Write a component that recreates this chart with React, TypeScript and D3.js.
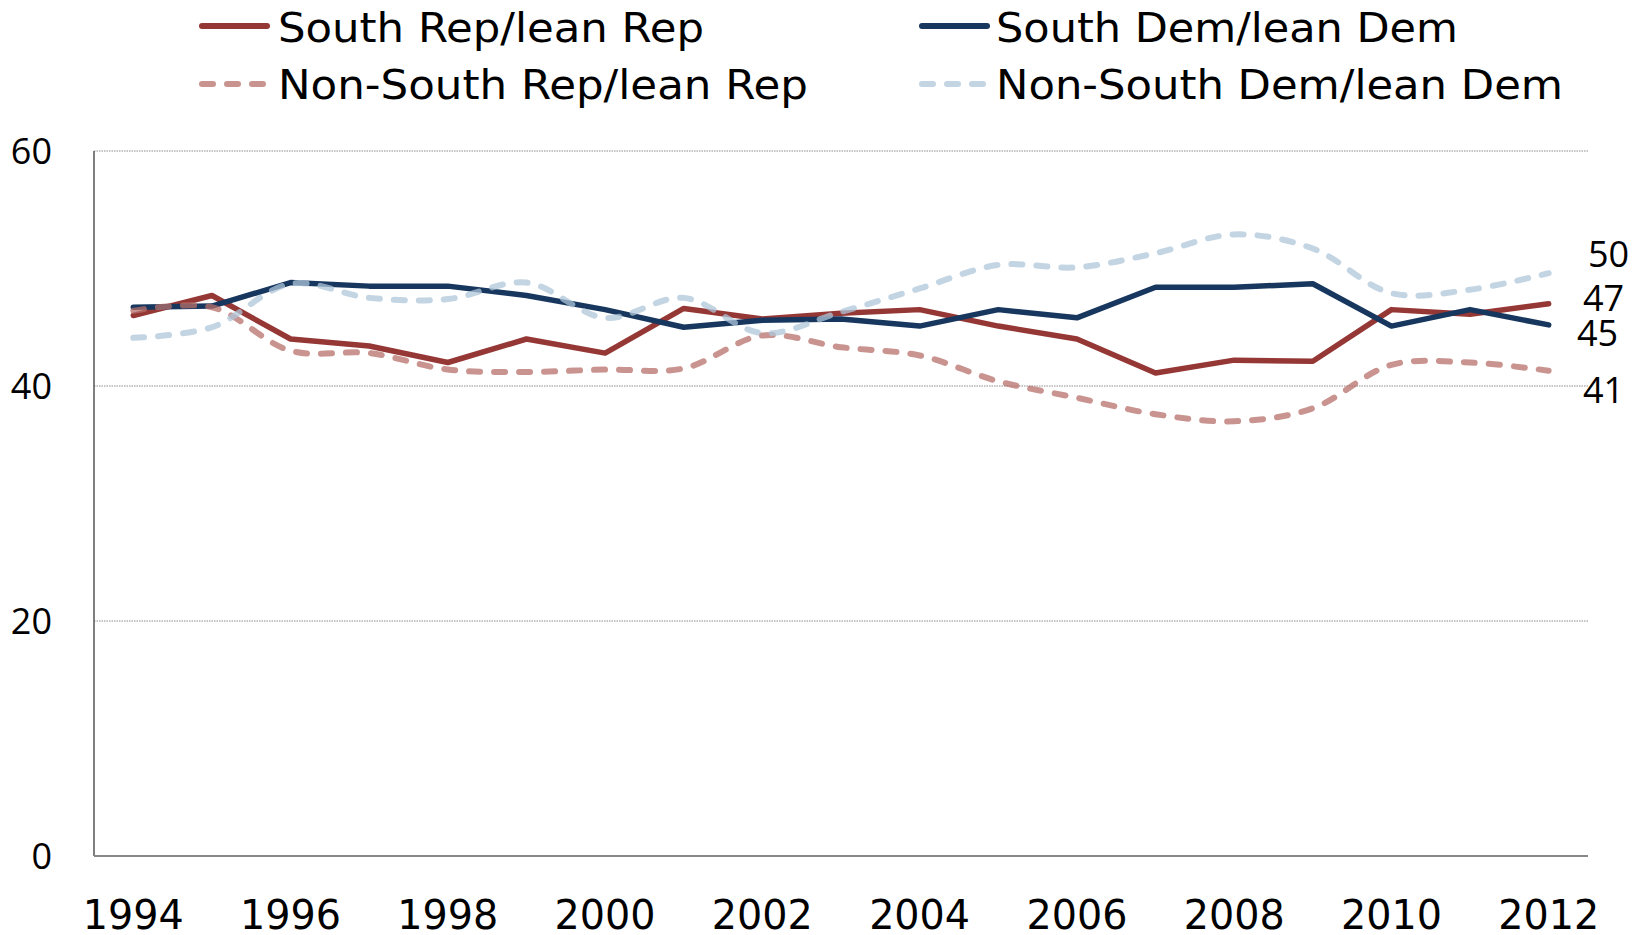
import React from "react";
import * as d3 from "d3";

const years = [1994, 1995, 1996, 1997, 1998, 1999, 2000, 2001, 2002, 2003, 2004, 2005, 2006, 2007, 2008, 2009, 2010, 2011, 2012];
const southRep = [46.0, 47.7, 44.0, 43.4, 42.0, 44.0, 42.8, 46.6, 45.7, 46.2, 46.5, 45.1, 44.0, 41.1, 42.2, 42.1, 46.5, 46.1, 47.0];
const southDem = [46.7, 46.8, 48.8, 48.5, 48.5, 47.7, 46.5, 45.0, 45.6, 45.7, 45.1, 46.5, 45.8, 48.4, 48.4, 48.7, 45.1, 46.5, 45.2];
const nonSouthRep = [46.4, 46.7, 43.0, 42.8, 41.4, 41.2, 41.4, 41.5, 44.3, 43.3, 42.6, 40.4, 39.0, 37.6, 37.0, 38.1, 41.8, 42.0, 41.3];
const nonSouthDem = [44.1, 45.0, 48.7, 47.5, 47.4, 48.8, 45.8, 47.5, 44.5, 46.3, 48.3, 50.3, 50.1, 51.3, 52.9, 51.7, 47.9, 48.2, 49.6];
const yTicks = [0, 20, 40, 60];
const xTickYears = [1994, 1996, 1998, 2000, 2002, 2004, 2006, 2008, 2010, 2012];

const seriesNames = ["South Rep/lean Rep", "South Dem/lean Dem", "Non-South Rep/lean Rep", "Non-South Dem/lean Dem"];

export default function App() {
  const W = 1641, H = 935;
  const left = 94, right = 1588, top = 151, bottom = 856;
  const x = d3.scaleBand<number>().domain(years).range([left, right]);
  const cx = (yr: number) => (x(yr) as number) + x.bandwidth() / 2;
  const y = d3.scaleLinear().domain([0, 60]).range([bottom, top]);

  const solid = d3.line<number>().x((_, i) => cx(years[i])).y((v) => y(v));
  const smooth = d3.line<number>().x((_, i) => cx(years[i])).y((v) => y(v)).curve(d3.curveCatmullRom.alpha(0.5));

  const series = [
    { name: seriesNames[0], data: southRep, color: "#953735", opacity: 1, dashed: false, gen: solid },
    { name: seriesNames[1], data: southDem, color: "#17375E", opacity: 1, dashed: false, gen: solid },
    { name: seriesNames[2], data: nonSouthRep, color: "#B7706A", opacity: 0.75, dashed: true, gen: smooth },
    { name: seriesNames[3], data: nonSouthDem, color: "#AFC6DA", opacity: 0.75, dashed: true, gen: smooth },
  ];

  const legendPos = [
    { lx: 199, ly: 26, tx: 278, ty: 42, tl: 426 },
    { lx: 919, ly: 26, tx: 996, ty: 42, tl: 462 },
    { lx: 199, ly: 84, tx: 278, ty: 99, tl: 530 },
    { lx: 919, ly: 84, tx: 996, ty: 99, tl: 567 },
  ];

  const endLabelPos = [
    { x: 1583, y: 311 },
    { x: 1577, y: 346 },
    { x: 1583, y: 403 },
    { x: 1588, y: 267 },
  ];

  return (
    <svg width={W} height={H} style={{ position: "absolute", left: 0, top: 0, background: "#fff" }}>
      {yTicks.filter((t) => t > 0).map((t) => (
        <line key={"g" + t} x1={left} x2={right} y1={y(t)} y2={y(t)} stroke="#8c8c8c" strokeWidth={1} strokeDasharray="1.5,1" />
      ))}
      <line x1={left} x2={left} y1={top} y2={bottom} stroke="#555" strokeWidth={1.5} />
      <line x1={left} x2={right} y1={bottom} y2={bottom} stroke="#888" strokeWidth={2} />
      {yTicks.map((t) => (
        <text key={"yt" + t} x={52} y={y(t) + 12.5} textAnchor="end" fontFamily="Open Sans" fontSize={36} fill="#000">
          {t}
        </text>
      ))}
      {xTickYears.map((yr) => (
        <text key={"xt" + yr} x={cx(yr)} y={929} textAnchor="middle" fontFamily="DejaVu Sans" fontSize={41} textLength={101} lengthAdjust="spacingAndGlyphs" fill="#000">
          {yr}
        </text>
      ))}
      {series.map((s) => (
        <path
          key={s.name}
          d={s.gen(s.data) || ""}
          fill="none"
          stroke={s.color}
          strokeOpacity={s.opacity}
          strokeWidth={s.dashed ? 6 : 5.5}
          strokeLinecap="round"
          strokeLinejoin="round"
          strokeDasharray={s.dashed ? "11,14" : undefined}
        />
      ))}
      {series.map((s, i) => (
        <text key={"el" + s.name} x={endLabelPos[i].x} y={endLabelPos[i].y} fontFamily="Open Sans" fontSize={36} fill="#000">
          {Math.round(s.data[s.data.length - 1])}
        </text>
      ))}
      {series.map((s, i) => {
        const p = legendPos[i];
        return (
          <g key={"lg" + s.name}>
            <line
              x1={p.lx + 3}
              x2={p.lx + 68}
              y1={p.ly}
              y2={p.ly}
              stroke={s.color}
              strokeOpacity={s.opacity}
              strokeWidth={6}
              strokeLinecap="round"
              strokeDasharray={s.dashed ? "11,14" : undefined}
            />
            <text x={p.tx} y={p.ty} fontFamily="DejaVu Sans" fontSize={40} textLength={p.tl} lengthAdjust="spacingAndGlyphs" fill="#000">
              {s.name}
            </text>
          </g>
        );
      })}
    </svg>
  );
}
